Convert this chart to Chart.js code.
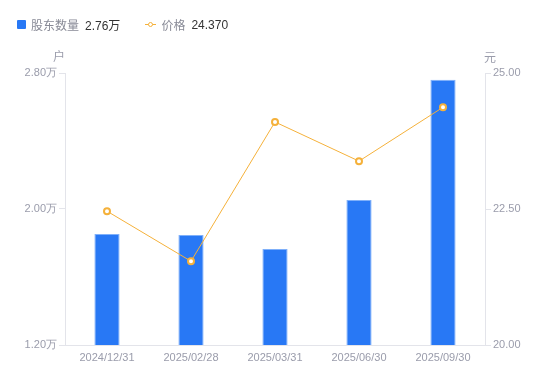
<!DOCTYPE html>
<html>
<head>
<meta charset="utf-8">
<script src="https://cdn.jsdelivr.net/npm/chart.js@4/dist/chart.umd.min.js"></script>
<style>
  body { margin: 0; background: #fff; font-family: "Liberation Sans", "Noto Sans CJK SC", sans-serif; }
  #wrap { position: relative; width: 550px; height: 381px; }
  #legend { position: absolute; left: 17px; top: 16px; font-size: 12px; display: flex; align-items: center; }
  #legend .item { display: flex; align-items: center; margin-right: 25px; }
  #legend .sq { width: 9px; height: 9px; background: #2878f5; border-radius: 1px; margin-right: 5px; }
  #legend .ln { position: relative; width: 11px; height: 9px; margin-right: 5px; }
  #legend .ln::before { content: ""; position: absolute; left: 0; right: 0; top: 4px; height: 1px; background: #f5b13a; }
  #legend .ln::after { content: ""; position: absolute; left: 2.5px; top: 1.5px; width: 3px; height: 3px; border: 1.5px solid #f5b13a; border-radius: 50%; background: #fff; }
  #legend .name { color: #888a96; margin-right: 6px; }
  #legend .val { color: #333; }
</style>
</head>
<body>
<div id="wrap">
  <canvas id="chart" width="550" height="381"></canvas>
  <div id="legend">
    <div class="item"><span class="sq"></span><span class="name">股东数量</span><span class="val">2.76万</span></div>
    <div class="item"><span class="ln"></span><span class="name">价格</span><span class="val">24.370</span></div>
  </div>
</div>
<script>
const dates = ["2024/12/31", "2025/02/28", "2025/03/31", "2025/06/30", "2025/09/30"];
const holders = [1.853, 1.847, 1.765, 2.053, 2.76]; // 万户
const prices = [22.46, 21.54, 24.10, 23.38, 24.37];
const holderTicks = [1.2, 2.0, 2.8];
const priceTicks = [20, 22.5, 25];

const tickColor = "#9a9cab";
const lineColor = "#e3e4ea";

// 轴标题 户 / 元
const unitLabels = {
  id: "unitLabels",
  afterDraw(chart) {
    const ctx = chart.ctx;
    const a = chart.chartArea;
    ctx.save();
    ctx.font = "12px 'Noto Sans CJK SC'";
    ctx.fillStyle = tickColor;
    ctx.textBaseline = "middle";
    ctx.textAlign = "center";
    ctx.fillText("户", a.left - 6, 56);
    ctx.fillText("元", a.right + 5, 57);
    ctx.restore();
  }
};

new Chart(document.getElementById("chart"), {
  data: {
    labels: dates,
    datasets: [
      {
        type: "line",
        label: "价格",
        data: prices,
        yAxisID: "y1",
        borderColor: "#f5b13a",
        borderWidth: 1,
        pointRadius: 3,
        pointBorderWidth: 2,
        pointBackgroundColor: "#fff",
        pointBorderColor: "#f5b13a",
        tension: 0,
        order: 0,
      },
      {
        type: "bar",
        label: "股东数量",
        data: holders,
        yAxisID: "y",
        backgroundColor: "#2878f5",
        borderColor: "#7fb0fa",
        borderWidth: 1,
        categoryPercentage: 1,
        barPercentage: 0.3,
        order: 1,
      },
    ],
  },
  options: {
    responsive: false,
    animation: false,
    layout: { padding: { top: 73, left: 0, right: 0, bottom: 0 } },
    plugins: { legend: { display: false }, tooltip: { enabled: false } },
    scales: {
      x: {
        grid: { display: false, drawTicks: false },
        border: { display: true, color: lineColor },
        ticks: { color: tickColor, font: { size: 11 }, padding: 6, maxRotation: 0 },
        afterFit: (s) => { s.height = 36; },
      },
      y: {
        position: "left",
        min: 1.2,
        max: 2.8,
        afterBuildTicks: (s) => { s.ticks = holderTicks.map((v) => ({ value: v })); },
        ticks: { color: tickColor, font: { size: 11 }, padding: 2, callback: (v) => v.toFixed(2) + "万" },
        grid: { drawOnChartArea: false, drawTicks: true, tickLength: 6, color: lineColor },
        border: { display: true, color: lineColor },
        afterFit: (s) => { s.width = 65; },
      },
      y1: {
        position: "right",
        min: 20,
        max: 25,
        afterBuildTicks: (s) => { s.ticks = priceTicks.map((v) => ({ value: v })); },
        ticks: { color: tickColor, font: { size: 11 }, padding: 2, callback: (v) => v.toFixed(2) },
        grid: { drawOnChartArea: false, drawTicks: true, tickLength: 6, color: lineColor },
        border: { display: true, color: lineColor },
        afterFit: (s) => { s.width = 65; },
      },
    },
  },
  plugins: [unitLabels],
});
</script>
</body>
</html>
